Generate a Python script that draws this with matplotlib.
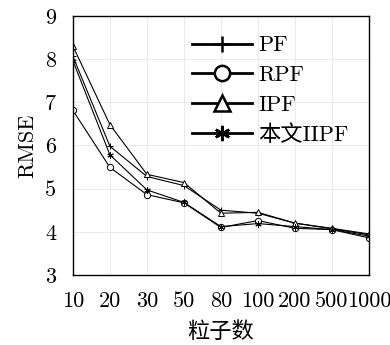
import matplotlib
matplotlib.use('Agg')
import matplotlib.pyplot as plt
from matplotlib.lines import Line2D

plt.rcParams['font.family'] = ['cmr10', 'Noto Sans CJK SC']
plt.rcParams['mathtext.fontset'] = 'cm'

particles = ['10', '20', '30', '50', '80', '100', '200', '500', '1000']
pf = [8.06, 5.98, 5.28, 5.07, 4.50, 4.43, 4.20, 4.07, 3.93]
rpf = [6.81, 5.49, 4.86, 4.67, 4.10, 4.26, 4.08, 4.05, 3.86]
ipf = [8.30, 6.48, 5.33, 5.14, 4.43, 4.45, 4.20, 4.08, 3.95]
iipf = [7.96, 5.78, 4.97, 4.68, 4.12, 4.19, 4.12, 4.05, 3.90]
names = ['PF', 'RPF', 'IPF', '本文IIPF']
markers = ['+', 'o', '^', (6, 2, 0)]

fig = plt.figure(figsize=(3.9, 3.45), dpi=100)
ax = fig.add_axes([0.187, 0.203, 0.759, 0.751])

x = list(range(len(particles)))
for vals, m in zip([pf, rpf, ipf, iipf], markers):
    ax.plot(x, vals, color='black', lw=0.8, marker=m, ms=4.5,
            mfc='white', mec='black', mew=0.7)

ax.set_xlim(0, len(particles) - 1)
ax.set_ylim(3, 9)
ax.set_xticks(x)
ax.set_xticklabels(particles, fontsize=16)
ax.set_yticks(range(3, 10))
ax.set_yticklabels([str(v) for v in range(3, 10)], fontsize=16)
ax.tick_params(axis='x', length=0, pad=12)
ax.tick_params(axis='y', length=0, pad=12)
ax.grid(color='#e6e6e6', lw=0.6)
for s in ax.spines.values():
    s.set_linewidth(1.0)

ax.set_ylabel('RMSE', fontsize=16, labelpad=6)
ax.set_xlabel('粒子数', fontsize=16, labelpad=7)

handles = []
for m in markers:
    handles.append(Line2D([], [], color='black', lw=2, marker=m, ms=11,
                          mfc='white', mec='black', mew=1.8))
ax.legend(handles, names, loc='upper right', frameon=False, fontsize=16,
          handlelength=2.7, labelspacing=0.45, handletextpad=0.3,
          bbox_to_anchor=(1.0, 1.0))

fig.savefig('out.png', dpi=100)
